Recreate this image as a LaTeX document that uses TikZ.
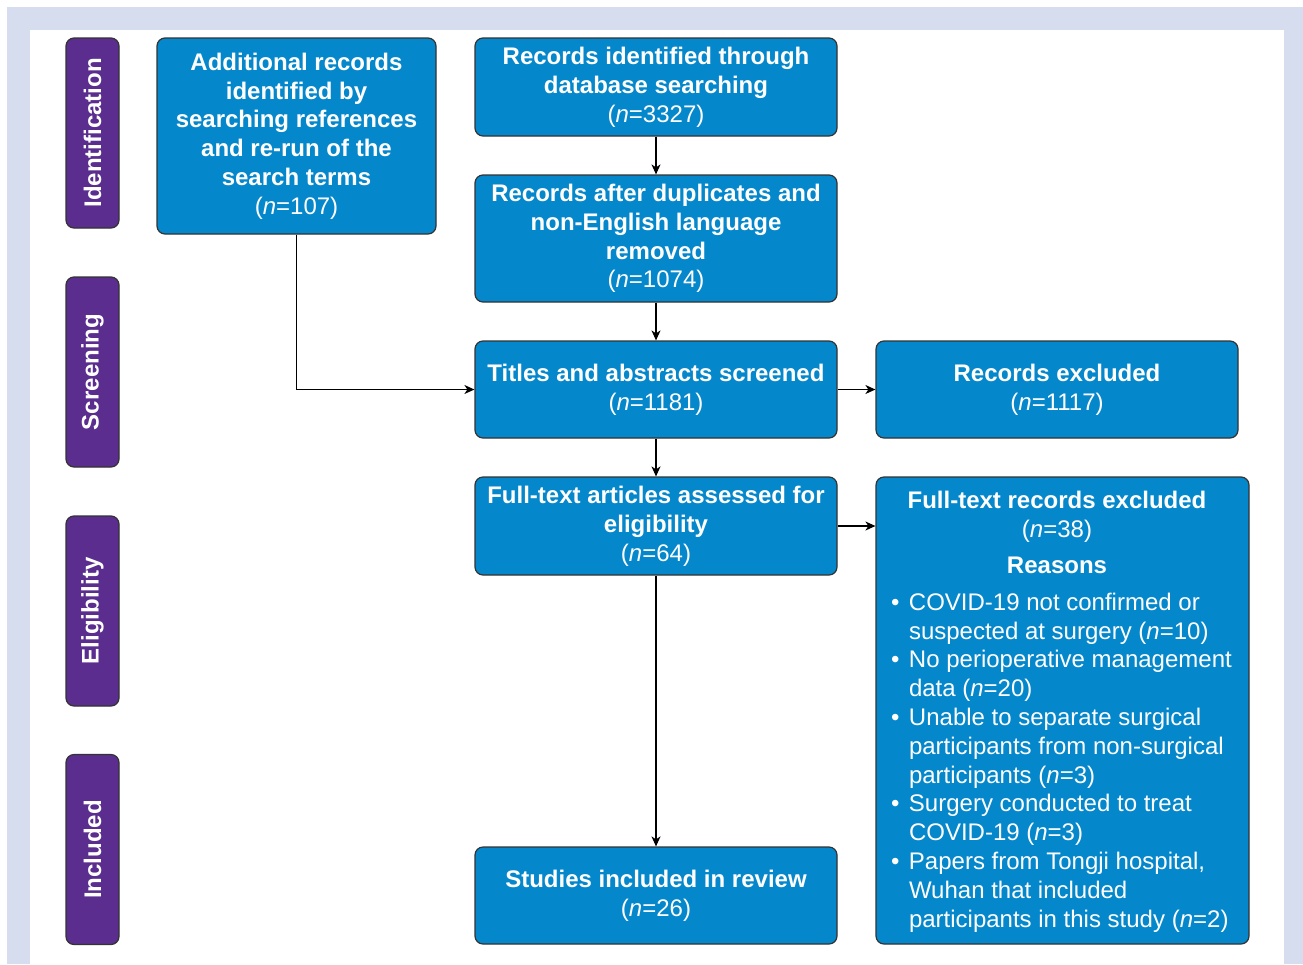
\documentclass[tikz,border=0pt]{standalone}
\usepackage{fontspec}
\setmainfont{Liberation Sans}
\usetikzlibrary{arrows.meta}

\definecolor{boxblue}{HTML}{0587CC}
\definecolor{stagepurple}{HTML}{5A2D8E}
\definecolor{framegrey}{HTML}{D5DDEE}
\definecolor{edgegrey}{HTML}{333333}

\newcommand{\reasonitem}{\hangindent=18pt\hangafter=1\noindent\makebox[18pt][l]{\textbullet}}
\newcommand{\reasonhead}[1]{\noindent\makebox[332pt]{#1}\par}

\tikzset{
  flowbox/.style={draw=edgegrey, line width=1.2pt, fill=boxblue, rounded corners=8pt, text=white, align=center, inner sep=0pt, font=\fontsize{24}{28.8}\selectfont},
  stagebox/.style={draw=edgegrey, line width=1.2pt, fill=stagepurple, rounded corners=8pt, text=white, inner sep=0pt, rotate=90, minimum width=190pt, minimum height=53pt, font=\fontsize{24}{28.8}\selectfont\bfseries},
  flowarrow/.style={line width=1.2pt, -{Stealth[length=10pt,width=9pt,inset=3pt]}}
}

\begin{document}
\begin{tikzpicture}[x=1pt,y=-1pt]
  % Draw the frame
  \useasboundingbox (0,0) rectangle (1303,964);
  \fill[white] (0,0) rectangle (1303,964);
  \fill[framegrey] (7,7) rectangle (1303,964);
  \fill[white] (30,30) rectangle (1284,964);

  % Draw the stage labels
  \node[stagebox] (identification) at (92.5,133) {Identification};
  \node[stagebox] (screening) at (92.5,372) {Screening};
  \node[stagebox] (eligibility) at (92.5,611) {Eligibility};
  \node[stagebox] (included) at (92.5,849.5) {Included};

  % Draw the flow boxes
  \node[flowbox, minimum width=279pt, minimum height=196pt] (add) at (296.5,136)
    {\textbf{Additional records}\\\textbf{identified by}\\\textbf{searching references}\\\textbf{and re-run of the}\\\textbf{search terms}\\(\textit{n}=107)};
  \node[flowbox, minimum width=362pt, minimum height=98pt] (ident) at (656,87)
    {\textbf{Records identified through}\\\textbf{database searching}\\(\textit{n}=3327)};
  \node[flowbox, minimum width=362pt, minimum height=127pt] (dup) at (656,238.5)
    {\textbf{Records after duplicates and}\\\textbf{non-English language}\\\textbf{removed}\\(\textit{n}=1074)};
  \node[flowbox, minimum width=362pt, minimum height=97pt] (screen) at (656,389.5)
    {\textbf{Titles and abstracts screened}\\(\textit{n}=1181)};
  \node[flowbox, minimum width=362pt, minimum height=97pt] (excl) at (1057,389.5)
    {\textbf{Records excluded}\\(\textit{n}=1117)};
  \node[flowbox, minimum width=362pt, minimum height=98pt] (full) at (656,526)
    {\textbf{Full-text articles assessed for}\\\textbf{eligibility}\\(\textit{n}=64)};
  \node[flowbox, minimum width=362pt, minimum height=97pt] (incl) at (656,895.5)
    {\textbf{Studies included in review}\\(\textit{n}=26)};
  \node[flowbox, minimum width=373pt, minimum height=467pt] (ftex) at (1062.5,710.5)
    {\parbox[c][438pt][t]{343pt}{%
      \raggedright
      \reasonhead{\bfseries Full-text records excluded}
      \reasonhead{(\textit{n}=38)}
      \vspace{7pt}
      \reasonhead{\bfseries Reasons}
      \vspace{8pt}
      \reasonitem COVID-19 not confirmed or\newline suspected at surgery (\textit{n}=10)\par
      \reasonitem No perioperative management\newline data (\textit{n}=20)\par
      \reasonitem Unable to separate surgical\newline participants from non-surgical\newline participants (\textit{n}=3)\par
      \reasonitem Surgery conducted to treat\newline COVID-19 (\textit{n}=3)\par
      \reasonitem Papers from Tongji hospital,\newline Wuhan that included\newline participants in this study (\textit{n}=2)\par}};

  % Draw the connectors
  \draw[flowarrow] (ident) -- (dup);
  \draw[flowarrow] (dup) -- (screen);
  \draw[flowarrow] (screen) -- (full);
  \draw[flowarrow] (full) -- (incl);
  \draw[flowarrow] (screen) -- (excl);
  \draw[flowarrow] (full.east) -- (full.east -| ftex.west);
  \draw[flowarrow] (add.south) |- (screen.west);
\end{tikzpicture}
\end{document}
